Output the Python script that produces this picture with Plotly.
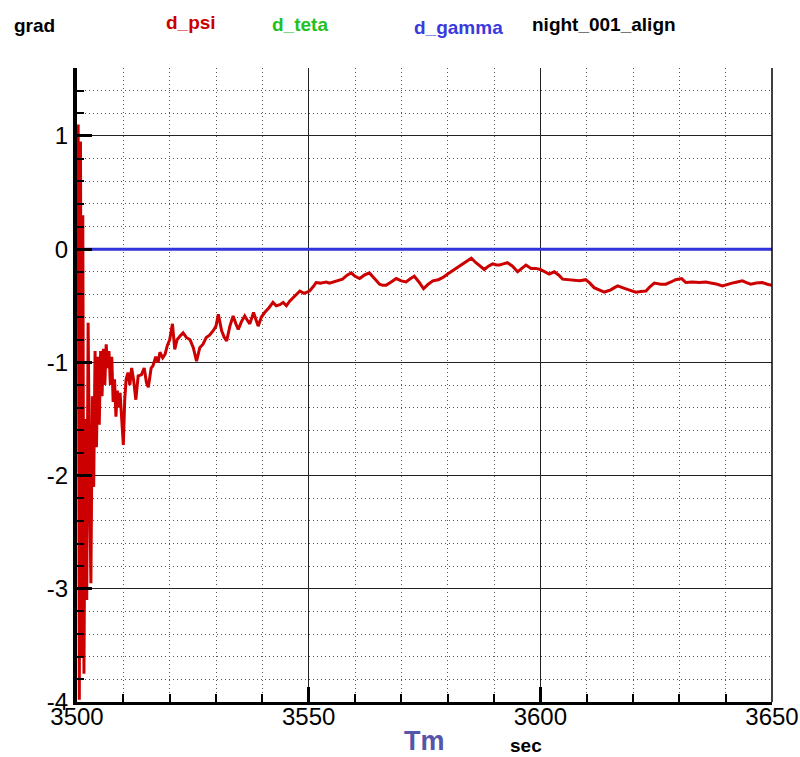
import plotly.graph_objects as go

# ---- data ----
psi_t = [3500.0, 3500.25, 3500.5, 3500.75, 3501.0, 3501.25, 3501.5, 3501.8, 3502.1, 3502.4,
         3502.7, 3503.0, 3503.3, 3503.6, 3503.9, 3504.2, 3504.5, 3504.8, 3505.1, 3505.4,
         3505.7, 3506.0, 3506.3, 3506.6, 3506.9, 3507.2, 3507.5, 3507.8, 3508.1, 3508.4,
         3508.7, 3509.0, 3509.3, 3509.6, 3510.0, 3510.3, 3510.6, 3511.0, 3511.4, 3511.8,
         3512.2, 3512.7, 3513.2, 3513.9, 3514.5, 3515.0, 3515.4, 3516.0, 3516.4, 3517.0,
         3517.5, 3517.9, 3518.5, 3519.0, 3519.5, 3520.0, 3520.6, 3521.1, 3521.6, 3522.2,
         3522.9, 3523.6, 3524.4, 3525.1, 3525.8, 3526.5, 3527.2, 3527.9, 3528.6, 3529.4,
         3530.0, 3530.5, 3531.2, 3531.8, 3532.3, 3533.0, 3533.7, 3534.3, 3534.8, 3535.5,
         3536.2, 3536.8, 3537.3, 3538.1, 3538.6, 3539.1, 3539.8, 3540.5, 3541.4, 3542.3,
         3543.0, 3543.8, 3544.5, 3545.2, 3545.9, 3546.6, 3547.3, 3548.1, 3549.0, 3550.2,
         3551.0, 3551.6, 3552.5, 3553.8, 3554.5, 3555.2, 3556.2, 3557.3, 3558.3, 3559.2,
         3560.0, 3561.0, 3562.0, 3563.1, 3564.2, 3565.3, 3566.0, 3566.7, 3567.8, 3568.9,
         3570.0, 3571.0, 3572.0, 3572.8, 3573.8, 3574.8, 3575.8, 3576.8, 3578.0, 3579.0,
         3580.0, 3581.1, 3582.2, 3583.3, 3584.2, 3585.1, 3586.1, 3587.0, 3587.9, 3588.8,
         3589.7, 3590.5, 3591.2, 3592.0, 3592.9, 3594.0, 3595.1, 3596.0, 3596.9, 3598.0,
         3599.0, 3600.0, 3601.2, 3601.9, 3603.0, 3604.0, 3604.8, 3606.0, 3607.0, 3608.5,
         3609.8, 3610.7, 3611.6, 3612.7, 3613.8, 3614.5, 3615.2, 3616.0, 3616.7, 3618.0,
         3619.2, 3620.6, 3621.7, 3622.8, 3623.7, 3624.6, 3626.0, 3627.1, 3628.2, 3629.2,
         3630.5, 3631.4, 3632.8, 3634.3, 3635.7, 3637.1, 3638.2, 3639.3, 3640.4, 3641.4,
         3642.5, 3643.6, 3644.5, 3645.4, 3646.6, 3647.9, 3649.0, 3650.0]
psi_v = [-0.2, 1.1, -3.98, 0.95, -3.6, 0.3, -3.75, -1.5, -3.1, -0.65,
         -2.0, -2.95, -1.3, -2.1, -0.9, -1.75, -0.95, -1.55, -0.9, -1.3,
         -0.88, -1.2, -0.84, -1.05, -0.9, -1.2, -0.95, -1.35, -1.15, -1.48,
         -1.25, -1.4, -1.27, -1.5, -1.73, -1.33, -1.15, -1.09, -1.2, -1.05,
         -1.15, -1.33, -1.12, -1.11, -1.05, -1.18, -1.22, -1.05, -1.03, -0.95,
         -1.0, -0.91, -0.96, -0.93, -0.85, -0.80, -0.66, -0.885, -0.8, -0.77,
         -0.74, -0.78, -0.80, -0.87, -0.99, -0.87, -0.84, -0.78, -0.76, -0.72,
         -0.68, -0.575, -0.72, -0.78, -0.81, -0.68, -0.59, -0.66, -0.71, -0.64,
         -0.59, -0.63, -0.66, -0.56, -0.62, -0.68, -0.6, -0.56, -0.52, -0.47,
         -0.5, -0.49, -0.47, -0.50, -0.46, -0.43, -0.40, -0.37, -0.39, -0.37,
         -0.33, -0.295, -0.30, -0.29, -0.30, -0.29, -0.28, -0.265, -0.23, -0.21,
         -0.24, -0.26, -0.23, -0.21, -0.26, -0.31, -0.32, -0.32, -0.29, -0.26,
         -0.28, -0.29, -0.26, -0.24, -0.29, -0.35, -0.31, -0.28, -0.27, -0.25,
         -0.22, -0.19, -0.16, -0.13, -0.11, -0.08, -0.12, -0.15, -0.18, -0.15,
         -0.13, -0.14, -0.14, -0.13, -0.12, -0.15, -0.20, -0.17, -0.14, -0.17,
         -0.17, -0.18, -0.21, -0.22, -0.20, -0.23, -0.265, -0.27, -0.27, -0.28,
         -0.27, -0.30, -0.34, -0.36, -0.38, -0.37, -0.36, -0.34, -0.325, -0.345,
         -0.36, -0.38, -0.375, -0.37, -0.33, -0.30, -0.31, -0.31, -0.29, -0.27,
         -0.26, -0.295, -0.29, -0.295, -0.29, -0.30, -0.31, -0.325, -0.31, -0.30,
         -0.29, -0.28, -0.295, -0.31, -0.30, -0.295, -0.31, -0.32]
gamma_t = [3500.0, 3650.0]
gamma_v = [0.0, 0.0]

x_ticks = [3500, 3550, 3600, 3650]
y_ticks = [-4, -3, -2, -1, 0, 1]
legend_labels = ["grad", "d_psi", "d_teta", "d_gamma", "night_001_align"]
legend_colors = ["#000000", "#c80000", "#22c022", "#3a3ae0", "#000000"]
legend_x_px = [12, 164, 270, 412, 530]
legend_y_px = [26, 22, 25, 28, 25]

W, H = 800, 757
L, R, T, B = 77, 28, 68, 55
PW, PH = W - L - R, H - T - B

fig = go.Figure()
fig.add_trace(go.Scatter(x=gamma_t, y=gamma_v, mode="lines",
                         line=dict(color="#3333dd", width=3), name="d_gamma"))
fig.add_trace(go.Scatter(x=psi_t, y=psi_v, mode="lines",
                         line=dict(color="#cc0000", width=3), name="d_psi"))

font_tick = dict(family="Liberation Sans, Arial", size=24, color="black")

fig.update_xaxes(range=[3500, 3650], tickvals=x_ticks, ticktext=[str(v) for v in x_ticks],
                 ticks="inside", ticklen=15, tickwidth=3, tickcolor="black",
                 showline=True, linewidth=3, linecolor="black",
                 showgrid=True, gridcolor="#222222", gridwidth=1, automargin=False,
                 zeroline=False, tickfont=font_tick, ticklabelstandoff=-9,
                 minor=dict(dtick=10, tick0=3500, ticks="inside", ticklen=8, tickwidth=1.5,
                            tickcolor="black", showgrid=True, gridcolor="#555555",
                            griddash="1px,3px", gridwidth=1))
fig.update_yaxes(range=[-4, 1.6], tickvals=y_ticks, ticktext=[str(v) for v in y_ticks],
                 ticks="inside", ticklen=15, tickwidth=3, tickcolor="black",
                 showline=True, linewidth=4, linecolor="black",
                 showgrid=True, gridcolor="#222222", gridwidth=1, automargin=False,
                 zeroline=False, tickfont=font_tick, ticklabelstandoff=0,
                 minor=dict(dtick=0.2, tick0=0, ticks="inside", ticklen=7, tickwidth=1.5,
                            tickcolor="black", showgrid=True, gridcolor="#555555",
                            griddash="1px,3px", gridwidth=1))

# right frame line
fig.add_shape(type="line", xref="paper", yref="paper", x0=1, x1=1, y0=0, y1=1,
              line=dict(color="black", width=1.5))

annotations = []
for lab, col, px, py in zip(legend_labels, legend_colors, legend_x_px, legend_y_px):
    annotations.append(dict(text=lab, xref="paper", yref="paper",
                            x=(px - L) / PW, y=(H - B - py) / PH,
                            xanchor="left", yanchor="middle", showarrow=False,
                            font=dict(family="Liberation Sans, Arial", size=19,
                                      color=col, weight="bold")))
annotations.append(dict(text="Tm", xref="paper", yref="paper",
                        x=(425 - L) / PW, y=(H - B - 741) / PH,
                        xanchor="center", yanchor="middle", showarrow=False,
                        font=dict(family="Liberation Sans, Arial", size=27,
                                  color="#5555aa", weight="bold")))
annotations.append(dict(text="sec", xref="paper", yref="paper",
                        x=(526 - L) / PW, y=(H - B - 745) / PH,
                        xanchor="center", yanchor="middle", showarrow=False,
                        font=dict(family="Liberation Sans, Arial", size=19,
                                  color="black", weight="bold")))

fig.update_layout(width=W, height=H, margin=dict(l=L, r=R, t=T, b=B),
                  plot_bgcolor="white", paper_bgcolor="white", showlegend=False,
                  annotations=annotations)

fig.write_html("out.html")
